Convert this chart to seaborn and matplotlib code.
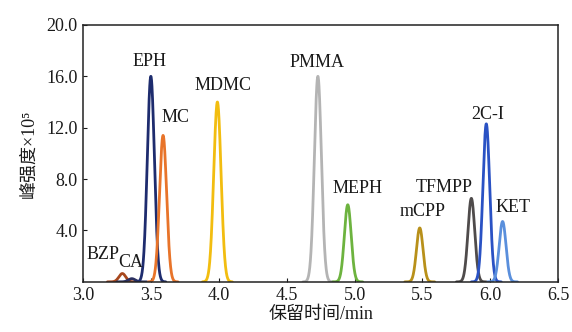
import numpy as np
import pandas as pd
import matplotlib
matplotlib.use("Agg")
import matplotlib.pyplot as plt
import seaborn as sns

# Peak data
compounds = ["BZP", "CA", "EPH", "MC", "MDMC", "PMMA", "MEPH", "mCPP", "TFMPP", "2C-I", "KET"]
retention = [3.29, 3.36, 3.50, 3.59, 3.99, 4.73, 4.95, 5.48, 5.86, 5.97, 6.09]
intensity = [0.65, 0.25, 16.0, 11.4, 14.0, 16.0, 6.0, 4.2, 6.5, 12.3, 4.7]
peak_sigma = [0.025, 0.025, 0.026, 0.026, 0.027, 0.026, 0.025, 0.024, 0.025, 0.025, 0.025]
colors = ["#a8481e", "#2b3060", "#1e2c6e", "#e8742a", "#f2bd10", "#b4b4b4",
          "#6db33f", "#b8901a", "#4f4b4b", "#2a52c4", "#5a8fdc"]
label_x = [3.15, 3.35, 3.49, 3.68, 4.03, 4.72, 5.02, 5.50, 5.66, 5.98, 6.17]
label_y = [2.1, 1.5, 17.15, 12.8, 15.25, 17.05, 7.25, 5.45, 7.35, 13.0, 5.75]

x_ticks = [3.0, 3.5, 4.0, 4.5, 5.0, 5.5, 6.0, 6.5]
y_ticks = [4.0, 8.0, 12.0, 16.0, 20.0]

sns.set_theme(style="ticks")
plt.rcParams["font.family"] = ["Liberation Serif", "Noto Sans CJK SC", "DejaVu Serif"]

rows = []
for name, c, h, s in zip(compounds, retention, intensity, peak_sigma):
    xs = np.linspace(c - 0.11, c + 0.11, 150)
    ys = h * np.exp(-0.5 * ((xs - c) / s) ** 2)
    for xv, yv in zip(xs, ys):
        rows.append({"compound": name, "t": xv, "I": yv})
df = pd.DataFrame(rows)

fig = plt.figure(figsize=(5.72, 3.32), dpi=100)
ax = fig.add_axes([0.145, 0.151, 0.831, 0.774])
sns.lineplot(data=df, x="t", y="I", hue="compound", hue_order=compounds,
             palette=dict(zip(compounds, colors)), linewidth=2.0,
             legend=False, ax=ax, sort=False, estimator=None)

for name, lx, ly in zip(compounds, label_x, label_y):
    ax.text(lx, ly, name, ha="center", va="center", fontsize=13,
            family=["Liberation Serif"], color="#1a1a1a")

ax.set_xlim(3.0, 6.5)
ax.set_ylim(0, 20.0)
ax.set_xticks(x_ticks)
ax.set_xticklabels([f"{v:.1f}" for v in x_ticks])
ax.set_yticks(y_ticks)
ax.set_yticklabels([f"{v:.1f}" for v in y_ticks])
ax.tick_params(direction="in", length=3, width=0.8, labelsize=13, colors="#1a1a1a", pad=4)
for sp in ax.spines.values():
    sp.set_linewidth(1.1)
    sp.set_color("#222222")
    sp.set_visible(True)

ax.set_xlabel("保留时间/min", fontsize=13, labelpad=1, color="#1a1a1a")
ax.set_ylabel("峰强度×10⁵", fontsize=13, labelpad=6, color="#1a1a1a")

fig.savefig("out.png", dpi=100)
